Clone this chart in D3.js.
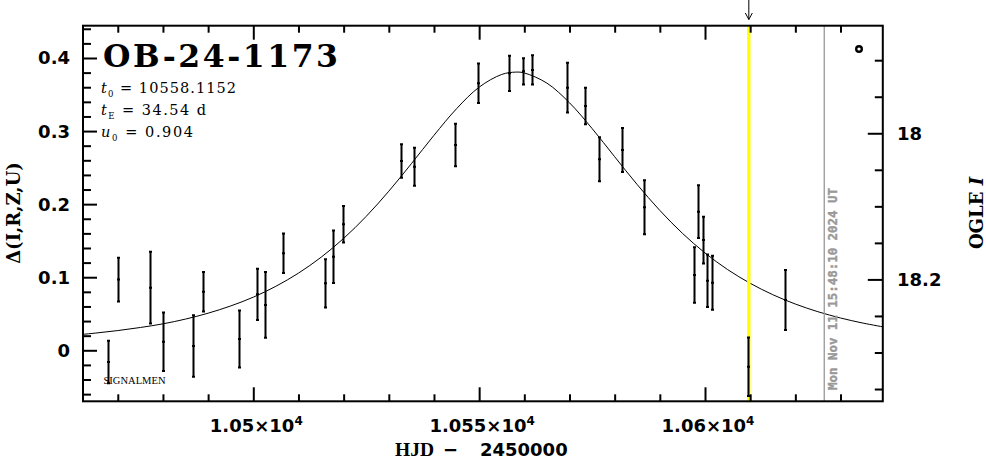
<!DOCTYPE html>
<html><head><meta charset="utf-8">
<script src="https://cdn.jsdelivr.net/npm/d3@7"></script>
<style>body{margin:0;background:#fff}svg{display:block}</style>
</head><body>
<svg id="c" width="986" height="459"></svg>
<script>
// ---- data ----
const obsHJD   = [10467.9,10470.1,10477.1,10479.9,10486.7,10488.9,10496.9,10500.8,10502.7,10506.6,10515.8,10517.7,10519.8,10532.7,10535.6,10544.7,10549.7,10556.6,10559.6,10561.6,10569.5,10573.5,10576.6,10581.7,10586.5,10597.6,10598.5,10599.5,10600.5,10601.5,10609.6,10617.6];
const obsDelta = [-0.016,0.0968,0.0857,0.0118,0.0059,0.0802,0.0155,0.0766,0.062,0.1327,0.0917,0.1281,0.1724,0.259,0.2513,0.2809,0.3654,0.379,0.3818,0.3836,0.3594,0.3343,0.2614,0.2741,0.1957,0.103,0.1897,0.1509,0.0952,0.0925,-0.0224,0.0688];
const obsErr   = [0.029,0.030,0.049,0.040,0.042,0.027,0.039,0.035,0.045,0.027,0.033,0.036,0.025,0.023,0.026,0.029,0.027,0.024,0.018,0.020,0.034,0.025,0.030,0.030,0.037,0.038,0.036,0.032,0.036,0.037,0.040,0.041];

const modelHJD   = [10460,10465,10470,10475,10480,10485,10490,10495,10500,10505,10510,10515,10520,10525,10530,10535,10540,10545,10550,10555,10558.1,10560,10565,10570,10575,10580,10585,10590,10595,10600,10605,10610,10615,10620,10625,10630,10635,10640];
const modelDelta = [0.0205,0.0235,0.0270,0.0312,0.0362,0.0427,0.0508,0.0607,0.0727,0.0876,0.1056,0.1273,0.1531,0.1833,0.2177,0.2554,0.2942,0.3306,0.3601,0.3775,0.3807,0.3795,0.3656,0.3387,0.3035,0.2649,0.2267,0.1914,0.1601,0.1332,0.1105,0.0917,0.0761,0.0633,0.0528,0.0442,0.0372,0.0314];

const xMajorTicks = [10500,10550,10600];
const xMinorTicks = [10470,10480,10490,10510,10520,10530,10540,10560,10570,10580,10590,10610,10620,10630];
const xTickMantissa = ["1.05","1.055","1.06"];
const xTickExponent = "4";
const yMajorTicks = [0,0.1,0.2,0.3,0.4];
const yTickLabels = ["0","0.1","0.2","0.3","0.4"];
const yMinorTicks = [-0.06,-0.04,-0.02,0.02,0.04,0.06,0.08,0.12,0.14,0.16,0.18,0.22,0.24,0.26,0.28,0.32,0.34,0.36,0.38,0.42,0.44];
const magMajorTicks = [18,18.2];
const magTickLabels = ["18","18.2"];
const magMinorTicks = [17.9,17.95,18.05,18.1,18.15,18.25,18.3,18.35];
const magZero = 18.297;        // OGLE I at Δ = 0
const alertHJD = 10609.7;      // yellow line
const nowHJD = 10626.4;        // grey line
const nowLabel = "Mon Nov 11 15:48:10 2024 UT";
const eventName = "OB-24-1173";
const params = [["t","0"," = 10558.1152"],["t","E"," = 34.54 d"],["u","0"," = 0.904"]];
const paramWidths = [135,105,92];

// ---- layout ----
const L=83, R=882.8, T=25.7, B=401.3;
const x = d3.scaleLinear().domain([10462.30,10639.36]).range([L,R]);
const y = d3.scaleLinear().domain([-0.0698,0.4442]).range([B,T]);
const yMag = d3.scaleLinear().domain([magZero+0.0698, magZero-0.4442]).range([B,T]);

const svg = d3.select("#c");
svg.append("rect").attr("width",986).attr("height",459).attr("fill","#fff");
svg.append("defs").append("clipPath").attr("id","pa").append("rect")
  .attr("x",L).attr("y",T).attr("width",R-L).attr("height",B-T);

// model curve
const line = d3.line().x((d,i)=>x(modelHJD[i])).y(d=>y(d)).curve(d3.curveCatmullRom);
svg.append("path").attr("clip-path","url(#pa)").attr("d",line(modelDelta))
  .attr("fill","none").attr("stroke","#000").attr("stroke-width",1);

// yellow line + arrow
svg.append("line").attr("x1",x(alertHJD)).attr("x2",x(alertHJD)).attr("y1",T).attr("y2",B+1)
  .attr("stroke","#ffff00").attr("stroke-width",3.3);
const ax = x(alertHJD);
svg.append("path").attr("d",`M${ax},0V19.5M${ax-3.5},13L${ax},19.5L${ax+3.5},13`)
  .attr("fill","none").attr("stroke","#000").attr("stroke-width",1);

// grey line + date
svg.append("line").attr("x1",x(nowHJD)).attr("x2",x(nowHJD)).attr("y1",T).attr("y2",B)
  .attr("stroke","#999").attr("stroke-width",1.3);
svg.append("text").attr("transform",`translate(${x(nowHJD)+13},390) rotate(-90)`)
  .attr("font-family","DejaVu Sans Mono").attr("font-weight","bold").attr("font-size",12.4)
  .attr("fill","#999").attr("stroke","#999").attr("stroke-width",0.4)
  .attr("textLength",202).attr("lengthAdjust","spacingAndGlyphs").text(nowLabel);

// error bars
const g = svg.append("g").attr("stroke","#000").attr("stroke-width",2).attr("fill","none");
obsHJD.forEach((t,i)=>{
  const cx = Math.round(x(t))+0.5, y0=y(obsDelta[i]-obsErr[i]), y1=y(obsDelta[i]+obsErr[i]), yc=y(obsDelta[i]);
  g.append("path").attr("d",`M${cx},${y0}V${y1}M${cx-1.5},${y0}H${cx+1.5}M${cx-1.5},${y1}H${cx+1.5}M${cx-1.5},${yc}H${cx+1.5}`);
});

// axes
const axG = svg.append("g").attr("font-family","DejaVu Sans").attr("font-weight","bold");
function addAxis(axis, tr){
  const a = svg.append("g").attr("transform",tr).call(axis);
  a.select(".domain").remove();
  a.selectAll("line").attr("stroke","#000").attr("stroke-width",2);
  a.selectAll("text").remove();
}
addAxis(d3.axisBottom(x).tickValues(xMajorTicks).tickSizeInner(-14).tickSizeOuter(0),`translate(0,${B})`);
addAxis(d3.axisBottom(x).tickValues(xMinorTicks).tickSizeInner(-7).tickSizeOuter(0),`translate(0,${B})`);
addAxis(d3.axisTop(x).tickValues(xMajorTicks).tickSizeInner(-14).tickSizeOuter(0),`translate(0,${T})`);
addAxis(d3.axisTop(x).tickValues(xMinorTicks).tickSizeInner(-7).tickSizeOuter(0),`translate(0,${T})`);
addAxis(d3.axisLeft(y).tickValues(yMajorTicks).tickSizeInner(-14).tickSizeOuter(0),`translate(${L},0)`);
addAxis(d3.axisLeft(y).tickValues(yMinorTicks).tickSizeInner(-8).tickSizeOuter(0),`translate(${L},0)`);
addAxis(d3.axisRight(yMag).tickValues(magMajorTicks).tickSizeInner(-15).tickSizeOuter(0),`translate(${R},0)`);
addAxis(d3.axisRight(yMag).tickValues(magMinorTicks).tickSizeInner(-8).tickSizeOuter(0),`translate(${R},0)`);
svg.append("rect").attr("x",L).attr("y",T).attr("width",R-L).attr("height",B-T)
  .attr("fill","none").attr("stroke","#000").attr("stroke-width",2);

// tick labels
axG.selectAll(".yl").data(yMajorTicks).enter().append("text")
  .attr("x",70).attr("y",d=>y(d)+6.5).attr("text-anchor","end").attr("font-size",18).text((d,i)=>yTickLabels[i]);
axG.selectAll(".ml").data(magMajorTicks).enter().append("text")
  .attr("x",897).attr("y",d=>yMag(d)+6.5).attr("text-anchor","start").attr("font-size",18).text((d,i)=>magTickLabels[i]);
const xl = axG.selectAll(".xl").data(xMajorTicks).enter().append("text")
  .attr("x",d=>x(d)+3).attr("y",432).attr("text-anchor","middle").attr("font-size",18);
xl.append("tspan").text((d,i)=>xTickMantissa[i]+"×10");
xl.append("tspan").attr("dy",-7).attr("font-size",12).text(xTickExponent);

// axis titles
const xt = svg.append("text").attr("y",456).attr("font-weight","bold").attr("font-size",18);
xt.append("tspan").attr("x",395).attr("font-family","Liberation Serif").attr("font-size",19.5).text("HJD ");
xt.append("tspan").attr("x",443).attr("font-family","DejaVu Sans").text("\u2212 ");
xt.append("tspan").attr("x",480).attr("font-family","DejaVu Sans").text("2450000");
svg.append("text").attr("transform","translate(20,213) rotate(-90)").attr("text-anchor","middle")
  .attr("font-family","DejaVu Serif").attr("font-weight","bold").attr("font-size",18).text("Δ(I,R,Z,U)");
const ot = svg.append("text").attr("transform","translate(983,213) rotate(-90)").attr("text-anchor","middle")
  .attr("font-family","DejaVu Serif").attr("font-weight","bold").attr("font-size",18);
ot.append("tspan").text("OGLE ");
ot.append("tspan").attr("font-style","italic").text("I");

// annotations
svg.append("text").attr("x",103).attr("y",66.7).attr("font-family","DejaVu Serif").attr("font-weight","bold")
  .attr("font-size",31.5).attr("textLength",235).attr("lengthAdjust","spacing").text(eventName);
params.forEach((p,i)=>{
  const t = svg.append("text").attr("x",101).attr("y",93.3+i*22).attr("font-family","DejaVu Serif").attr("font-size",14.5)
    .attr("textLength",paramWidths[i]).attr("lengthAdjust","spacing");
  t.append("tspan").attr("font-style","italic").text(p[0]);
  t.append("tspan").attr("dy",4).attr("font-size",8.5).text(p[1]);
  t.append("tspan").attr("dy",-4).text(p[2]);
});
svg.append("text").attr("x",103.5).attr("y",384).attr("font-family","Liberation Serif").attr("font-size",10)
  .attr("textLength",62).attr("lengthAdjust","spacingAndGlyphs").text("SIGNALMEN");
svg.append("circle").attr("cx",859).attr("cy",49).attr("r",2.8).attr("fill","#fff").attr("stroke","#000").attr("stroke-width",2.4);
</script>
</body></html>
